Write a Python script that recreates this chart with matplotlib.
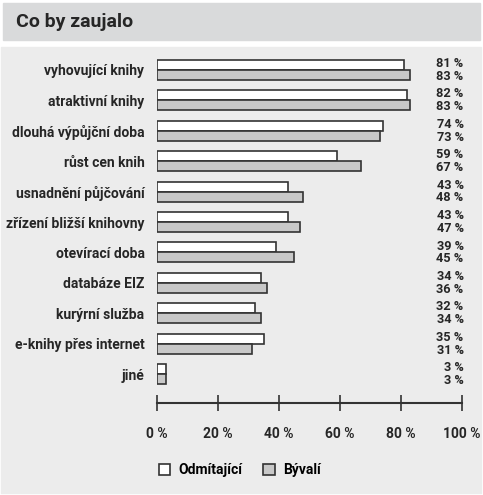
import matplotlib
matplotlib.use("Agg")
import matplotlib.pyplot as plt
from matplotlib.patches import Rectangle, Patch

categories = ["vyhovující knihy", "atraktivní knihy", "dlouhá výpůjční doba",
              "růst cen knih", "usnadnění půjčování", "zřízení bližší knihovny",
              "otevírací doba", "databáze EIZ", "kurýrní služba",
              "e-knihy přes internet", "jiné"]
odmitajici = [81, 82, 74, 59, 43, 43, 39, 34, 32, 35, 3]
byvali = [83, 83, 73, 67, 48, 47, 45, 36, 34, 31, 3]
series_names = ["Odmítající", "Bývalí"]
xticks = [0, 20, 40, 60, 80, 100]
xtick_labels = ["0 %", "20 %", "40 %", "60 %", "80 %", "100 %"]

W, H = 483, 495
plt.rcParams["font.family"] = ["Roboto", "DejaVu Sans"]
fig = plt.figure(figsize=(W / 100, H / 100), dpi=100)
fig.patch.set_facecolor("white")
txt = "#262626"
edge = "#333333"

# title band and panel background
fig.patches.append(Rectangle((3 / W, 1 - 40 / H), 477 / W, 37 / H,
                             transform=fig.transFigure, color="#d9dadb", zorder=-5))
fig.patches.append(Rectangle((1 / W, 1 - 493 / H), 480 / W, 446 / H,
                             transform=fig.transFigure, color="#ececec", zorder=-5))
fig.text(16 / W, 1 - 22 / H, "Co by zaujalo", fontsize=14, fontweight="bold",
         color=txt, va="center", ha="left")

ax = fig.add_axes([157 / W, 1 - 403 / H, 305 / W, 348 / H])
ax.set_facecolor("none")
n = len(categories)
ys = list(range(n))
bh = 0.33
ax.barh([y - bh / 2 for y in ys], odmitajici, height=bh, color="white",
        edgecolor=edge, linewidth=1.2, label=series_names[0])
ax.barh([y + bh / 2 for y in ys], byvali, height=bh, color="#c8c8c8",
        edgecolor=edge, linewidth=1.2, label=series_names[1])

ax.set_xlim(0, 100)
ax.set_ylim(10.95, -0.49)
ax.set_yticks(ys)
ax.set_yticklabels(categories, fontsize=10, fontweight="bold", color=txt)
ax.tick_params(axis="y", length=0, pad=9)
ax.set_xticks(xticks)
ax.set_xticklabels(xtick_labels, fontsize=10, fontweight="bold", color=txt)
ax.tick_params(axis="x", direction="inout", length=12, width=1.2, color=edge, pad=11)
for s in ["top", "right", "left"]:
    ax.spines[s].set_visible(False)
ax.spines["bottom"].set_color(edge)
ax.spines["bottom"].set_linewidth(1.5)

# value labels on the right
for y, a, b in zip(ys, odmitajici, byvali):
    ax.text(1.005, y - 0.21, f"{a} %", transform=ax.get_yaxis_transform(),
            ha="right", va="center", fontsize=9.2, fontweight="bold", color=txt)
    ax.text(1.005, y + 0.21, f"{b} %", transform=ax.get_yaxis_transform(),
            ha="right", va="center", fontsize=9.2, fontweight="bold", color=txt)

handles = [Patch(facecolor="white", edgecolor=edge, linewidth=1.2),
           Patch(facecolor="#c8c8c8", edgecolor=edge, linewidth=1.2)]
fig.legend(handles, series_names, loc="center left",
           bbox_to_anchor=(146 / W, 1 - 470 / H), ncol=2, frameon=False,
           handlelength=0.85, handleheight=0.85, columnspacing=1.5,
           handletextpad=0.6, prop={"size": 10, "weight": "bold"})

fig.savefig("out.png", dpi=100, facecolor="white")
